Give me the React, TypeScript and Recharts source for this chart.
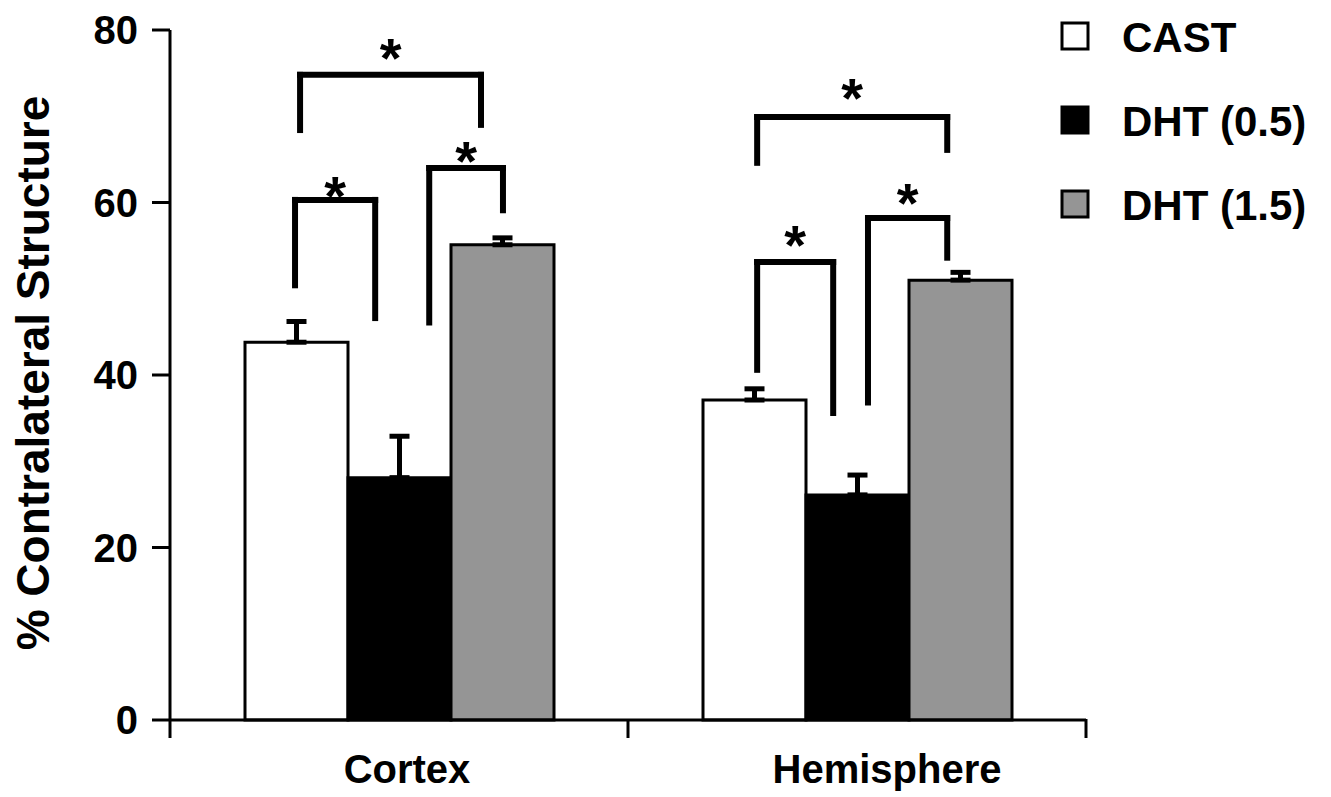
import React from 'react';
import {
  ComposedChart,
  Bar,
  XAxis,
  YAxis,
  ErrorBar,
  ReferenceLine,
  ReferenceDot,
  Legend,
} from 'recharts';

// ---- data ----
const categories = ['Cortex', 'Hemisphere'];
const castMean = [43.8, 37.1];
const castSem = [2.4, 1.3];
const dht05Mean = [28.1, 26.1];
const dht05Sem = [4.8, 2.3];
const dht15Mean = [55.1, 51.0];
const dht15Sem = [0.8, 0.9];

const seriesNames = ['CAST', 'DHT (0.5)', 'DHT (1.5)'];
const seriesFills = ['#ffffff', '#000000', '#959595'];

const yTicks = [0, 20, 40, 60, 80];
const yLabel = '% Contralateral Structure';

// significance brackets: x in category units (0..2), y in % units
const bracketXL = [0.273, 0.566, 0.284, 1.282, 1.524, 1.282];
const bracketXR = [0.448, 0.727, 0.679, 1.448, 1.697, 1.697];
const bracketTop = [60.3, 64.0, 74.8, 53.1, 58.2, 69.9];
const bracketLeftEnd = [50.4, 46.1, 68.4, 40.6, 36.8, 64.6];
const bracketRightEnd = [46.6, 59.1, 69.0, 35.6, 53.6, 66.1];
const starY = [62.3, 66.3, 78.3, 56.6, 61.4, 73.6];

const data = categories.map((name, i) => ({
  name,
  cast: castMean[i],
  castErr: [0, castSem[i]],
  dht05: dht05Mean[i],
  dht05Err: [0, dht05Sem[i]],
  dht15: dht15Mean[i],
  dht15Err: [0, dht15Sem[i]],
}));

const FONT = '"Liberation Sans", Arial, Helvetica, sans-serif';
const labelDx = [8, 30];

const XTick = (props: any) => {
  const { x, y, payload } = props;
  const v = payload.value;
  if (Number.isInteger(v)) {
    return <line x1={x} x2={x} y1={y - 1} y2={y + 18} stroke="#000" strokeWidth={3} />;
  }
  const idx = Math.floor(v);
  return (
    <text
      x={x + labelDx[idx]}
      y={y + 63}
      textAnchor="middle"
      fontFamily={FONT}
      fontWeight="bold"
      fontSize={40}
      fill="#000"
    >
      {categories[idx]}
    </text>
  );
};

const LegendContent = () => (
  <svg width={291} height={240}>
    {seriesNames.map((n, i) => (
      <g key={n}>
        <rect
          x={22}
          y={36 + i * 84 - 13}
          width={26}
          height={26}
          fill={seriesFills[i]}
          stroke="#000"
          strokeWidth={3}
        />
        <text
          x={82}
          y={52 + i * 84}
          fontFamily={FONT}
          fontWeight="bold"
          fontSize={42}
          fill="#000"
        >
          {n}
        </text>
      </g>
    ))}
  </svg>
);

const Star = (props: any) => {
  const { cx, cy } = props;
  return (
    <text
      x={cx}
      y={cy + 32}
      textAnchor="middle"
      fontFamily={FONT}
      fontWeight="bold"
      fontSize={56}
      fill="#000"
    >
      *
    </text>
  );
};

const YLabel = () => (
  <text
    x={49}
    y={373}
    transform="rotate(-90 49 373)"
    textAnchor="middle"
    fontFamily={FONT}
    fontWeight="bold"
    fontSize={46}
    fill="#000"
  >
    {yLabel}
  </text>
);

export default function App() {
  return (
    <div style={{ position: 'absolute', left: 0, top: 0, width: 1331, height: 797, background: '#fff' }}>
      <ComposedChart
        width={1331}
        height={797}
        data={data}
        margin={{ top: 30, right: 245, left: 0, bottom: 0 }}
        barCategoryGap={75}
        barGap={0}
      >
        <XAxis xAxisId="cat" dataKey="name" type="category" hide />
        <XAxis
          xAxisId="b"
          type="number"
          dataKey="x"
          domain={[0, 2]}
          ticks={[0, 0.5, 1, 1.5, 2]}
          allowDataOverflow
          height={77}
          tickLine={false}
          tickSize={0}
          tickMargin={0}
          tick={<XTick />}
          axisLine={{ stroke: '#000', strokeWidth: 3 }}
          interval={0}
        />
        <YAxis
          domain={[0, 80]}
          ticks={yTicks}
          width={170}
          tickSize={18}
          tickMargin={14}
          interval={0}
          axisLine={{ stroke: '#000', strokeWidth: 3 }}
          tickLine={{ stroke: '#000', strokeWidth: 3 }}
          tick={{ fill: '#000', fontSize: 40, fontWeight: 'bold', fontFamily: FONT }}
          label={<YLabel />}
        />
        <Bar xAxisId="cat" dataKey="cast" name={seriesNames[0]} fill={seriesFills[0]} stroke="#000" strokeWidth={3} isAnimationActive={false}>
          <ErrorBar dataKey="castErr" width={10} stroke="#000" strokeWidth={5} direction="y" />
        </Bar>
        <Bar xAxisId="cat" dataKey="dht05" name={seriesNames[1]} fill={seriesFills[1]} stroke="#000" strokeWidth={3} isAnimationActive={false}>
          <ErrorBar dataKey="dht05Err" width={10} stroke="#000" strokeWidth={5} direction="y" />
        </Bar>
        <Bar xAxisId="cat" dataKey="dht15" name={seriesNames[2]} fill={seriesFills[2]} stroke="#000" strokeWidth={3} isAnimationActive={false}>
          <ErrorBar dataKey="dht15Err" width={10} stroke="#000" strokeWidth={5} direction="y" />
        </Bar>
        {bracketXL.map((xl, i) => (
          <ReferenceLine
            key={`l${i}`}
            xAxisId="b"
            segment={[{ x: xl, y: bracketLeftEnd[i] }, { x: xl, y: bracketTop[i] }]}
            stroke="#000"
            strokeWidth={6}
            strokeLinecap="square"
          />
        ))}
        {bracketXL.map((xl, i) => (
          <ReferenceLine
            key={`t${i}`}
            xAxisId="b"
            segment={[{ x: xl, y: bracketTop[i] }, { x: bracketXR[i], y: bracketTop[i] }]}
            stroke="#000"
            strokeWidth={6}
            strokeLinecap="square"
          />
        ))}
        {bracketXR.map((xr, i) => (
          <ReferenceLine
            key={`r${i}`}
            xAxisId="b"
            segment={[{ x: xr, y: bracketTop[i] }, { x: xr, y: bracketRightEnd[i] }]}
            stroke="#000"
            strokeWidth={6}
            strokeLinecap="square"
          />
        ))}
        {bracketXL.map((xl, i) => (
          <ReferenceDot
            key={`s${i}`}
            xAxisId="b"
            x={(xl + bracketXR[i]) / 2}
            y={starY[i]}
            r={0}
            shape={<Star />}
          />
        ))}
        <Legend
          layout="vertical"
          align="center"
          verticalAlign="middle"
          content={<LegendContent />}
          wrapperStyle={{ left: 1040, top: 0, width: 291, height: 240 }}
        />
      </ComposedChart>
    </div>
  );
}
